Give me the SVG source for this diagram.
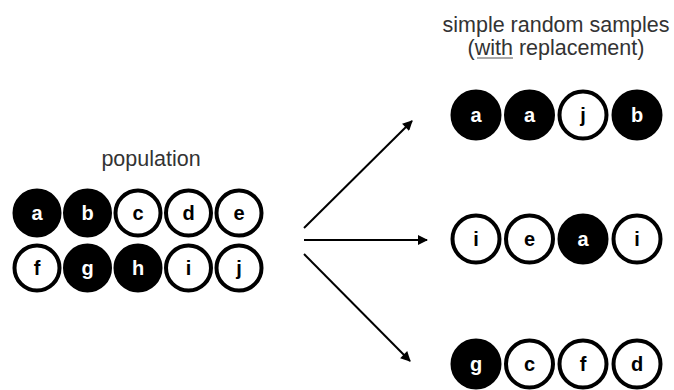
<svg xmlns="http://www.w3.org/2000/svg" width="674" height="390" viewBox="0 0 674 390">
<style>
.title{font-family:"Liberation Sans",Arial,sans-serif;font-size:21.5px;fill:#333;text-anchor:middle}
.f circle{fill:#000;stroke:#000;stroke-width:4}
.o circle{fill:#fff;stroke:#000;stroke-width:4}
.n text{font-family:"Liberation Sans",Arial,sans-serif;font-size:20px;font-weight:bold;text-anchor:middle}
.f text{fill:#fff}
.o text{fill:#000}
.arr{stroke:#000;stroke-width:2;fill:none;marker-end:url(#ah)}
</style>
<defs>
<marker id="ah" viewBox="0 0 10 10" refX="9" refY="5" markerWidth="5.5" markerHeight="5" orient="auto" markerUnits="strokeWidth">
<path d="M0,0 L10,5 L0,10 z" fill="#000"/>
</marker>
</defs>
<rect width="674" height="390" fill="#fff"/>
<text class="title" x="151" y="166">population</text>
<text class="title" x="556" y="32">simple random samples</text>
<text class="title" x="556" y="55">(with replacement)</text>
<line x1="477" y1="58" x2="513" y2="58" stroke="#555" stroke-width="1"/>
<g id="pop">
<g id="p-a" class="n f"><circle cx="37" cy="213" r="22.5"/><text x="37" y="220">a</text></g>
<g id="p-b" class="n f"><circle cx="87.5" cy="213" r="22.5"/><text x="87.5" y="220">b</text></g>
<g id="p-c" class="n o"><circle cx="138" cy="213" r="22.5"/><text x="138" y="220">c</text></g>
<g id="p-d" class="n o"><circle cx="188.5" cy="213" r="22.5"/><text x="188.5" y="220">d</text></g>
<g id="p-e" class="n o"><circle cx="239" cy="213" r="22.5"/><text x="239" y="220">e</text></g>
<g id="p-f" class="n o"><circle cx="37" cy="268" r="22.5"/><text x="37" y="275">f</text></g>
<g id="p-g" class="n f"><circle cx="87.5" cy="268" r="22.5"/><text x="87.5" y="275">g</text></g>
<g id="p-h" class="n f"><circle cx="138" cy="268" r="22.5"/><text x="138" y="275">h</text></g>
<g id="p-i" class="n o"><circle cx="188.5" cy="268" r="22.5"/><text x="188.5" y="275">i</text></g>
<g id="p-j" class="n o"><circle cx="239" cy="268" r="22.5"/><text x="239" y="275">j</text></g>
</g>
<g id="s1">
<g id="s1-1" class="n f"><circle cx="476" cy="115" r="23.5"/><text x="476" y="122">a</text></g>
<g id="s1-2" class="n f"><circle cx="529.5" cy="115" r="23.5"/><text x="529.5" y="122">a</text></g>
<g id="s1-3" class="n o"><circle cx="583" cy="115" r="23.5"/><text x="583" y="122">j</text></g>
<g id="s1-4" class="n f"><circle cx="637" cy="115" r="23.5"/><text x="637" y="122">b</text></g>
</g>
<g id="s2">
<g id="s2-1" class="n o"><circle cx="476" cy="239" r="23.5"/><text x="476" y="246">i</text></g>
<g id="s2-2" class="n o"><circle cx="529.5" cy="239" r="23.5"/><text x="529.5" y="246">e</text></g>
<g id="s2-3" class="n f"><circle cx="583" cy="239" r="23.5"/><text x="583" y="246">a</text></g>
<g id="s2-4" class="n o"><circle cx="637" cy="239" r="23.5"/><text x="637" y="246">i</text></g>
</g>
<g id="s3">
<g id="s3-1" class="n f"><circle cx="476" cy="364" r="23.5"/><text x="476" y="371">g</text></g>
<g id="s3-2" class="n o"><circle cx="529.5" cy="364" r="23.5"/><text x="529.5" y="371">c</text></g>
<g id="s3-3" class="n o"><circle cx="583" cy="364" r="23.5"/><text x="583" y="371">f</text></g>
<g id="s3-4" class="n o"><circle cx="637" cy="364" r="23.5"/><text x="637" y="371">d</text></g>
</g>
<g id="connectors">
<line class="arr" x1="304" y1="228" x2="412" y2="121"/>
<line class="arr" x1="304" y1="240" x2="427" y2="240"/>
<line class="arr" x1="304" y1="254" x2="410" y2="361"/>
</g>
</svg>
